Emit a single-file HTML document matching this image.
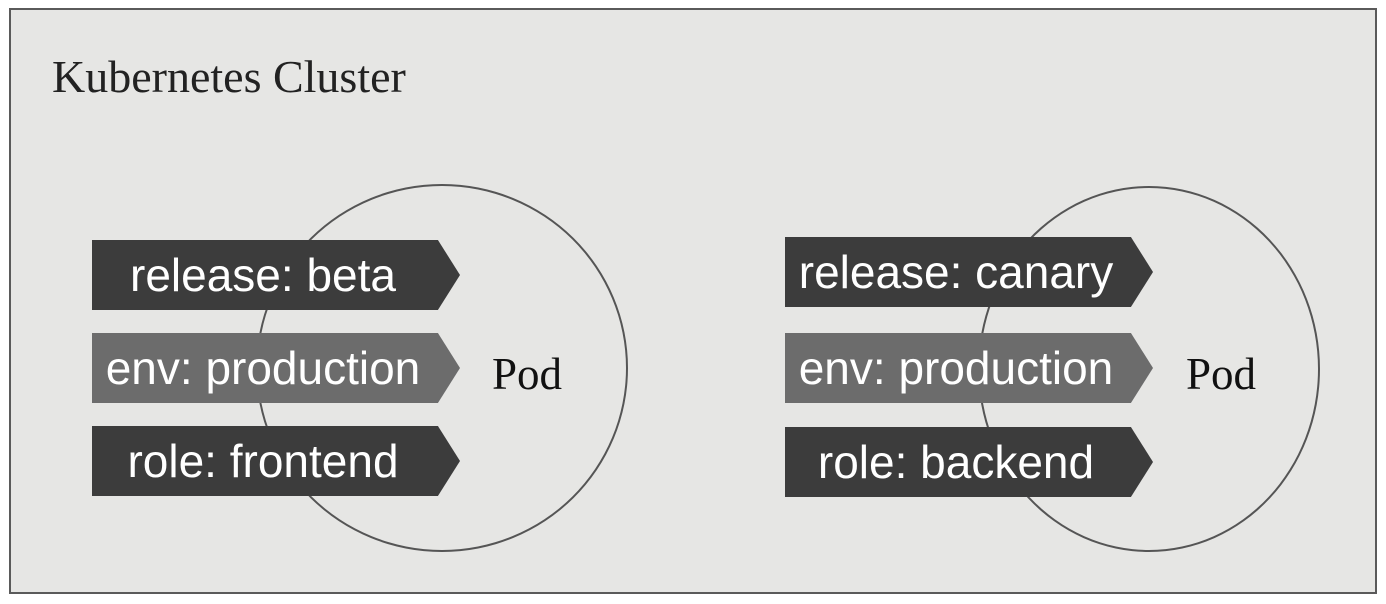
<!DOCTYPE html>
<html><head><style>
body{margin:0;background:#fff;width:1386px;height:604px;overflow:hidden;position:relative;font-family:"Liberation Sans",sans-serif}
.frame{position:absolute;left:9px;top:8px;width:1368px;height:586px;border:2px solid #5a5a5a;background:#e6e6e4;box-sizing:border-box}
.title{position:absolute;left:52px;top:50px;font:46px "Liberation Serif",serif;color:#222}
.circ{position:absolute;border:2px solid #555;border-radius:50%;box-sizing:border-box}
.pod{position:absolute;font:45px "Liberation Serif",serif;color:#111}
.tag{position:absolute;height:70px;color:#fff;font-size:46px;line-height:70px;text-align:center;clip-path:polygon(0 0,94% 0,100% 50%,94% 100%,0 100%);width:368px;padding-right:26px;box-sizing:border-box;white-space:nowrap}
.d{background:#3c3c3c}.m{background:#6c6c6c}
</style></head><body>
<div class="frame"></div>
<div class="title">Kubernetes Cluster</div>
<div class="circ" style="left:256px;top:184px;width:372px;height:368px"></div>
<div class="circ" style="left:978px;top:186px;width:342px;height:366px"></div>
<div class="pod" style="left:492px;top:348px">Pod</div>
<div class="pod" style="left:1186px;top:348px">Pod</div>
<div class="tag d" style="left:92px;top:240px">release: beta</div>
<div class="tag m" style="left:92px;top:333px">env: production</div>
<div class="tag d" style="left:92px;top:426px">role: frontend</div>
<div class="tag d" style="left:785px;top:237px">release: canary</div>
<div class="tag m" style="left:785px;top:333px">env: production</div>
<div class="tag d" style="left:785px;top:427px">role: backend</div>
</body></html>
